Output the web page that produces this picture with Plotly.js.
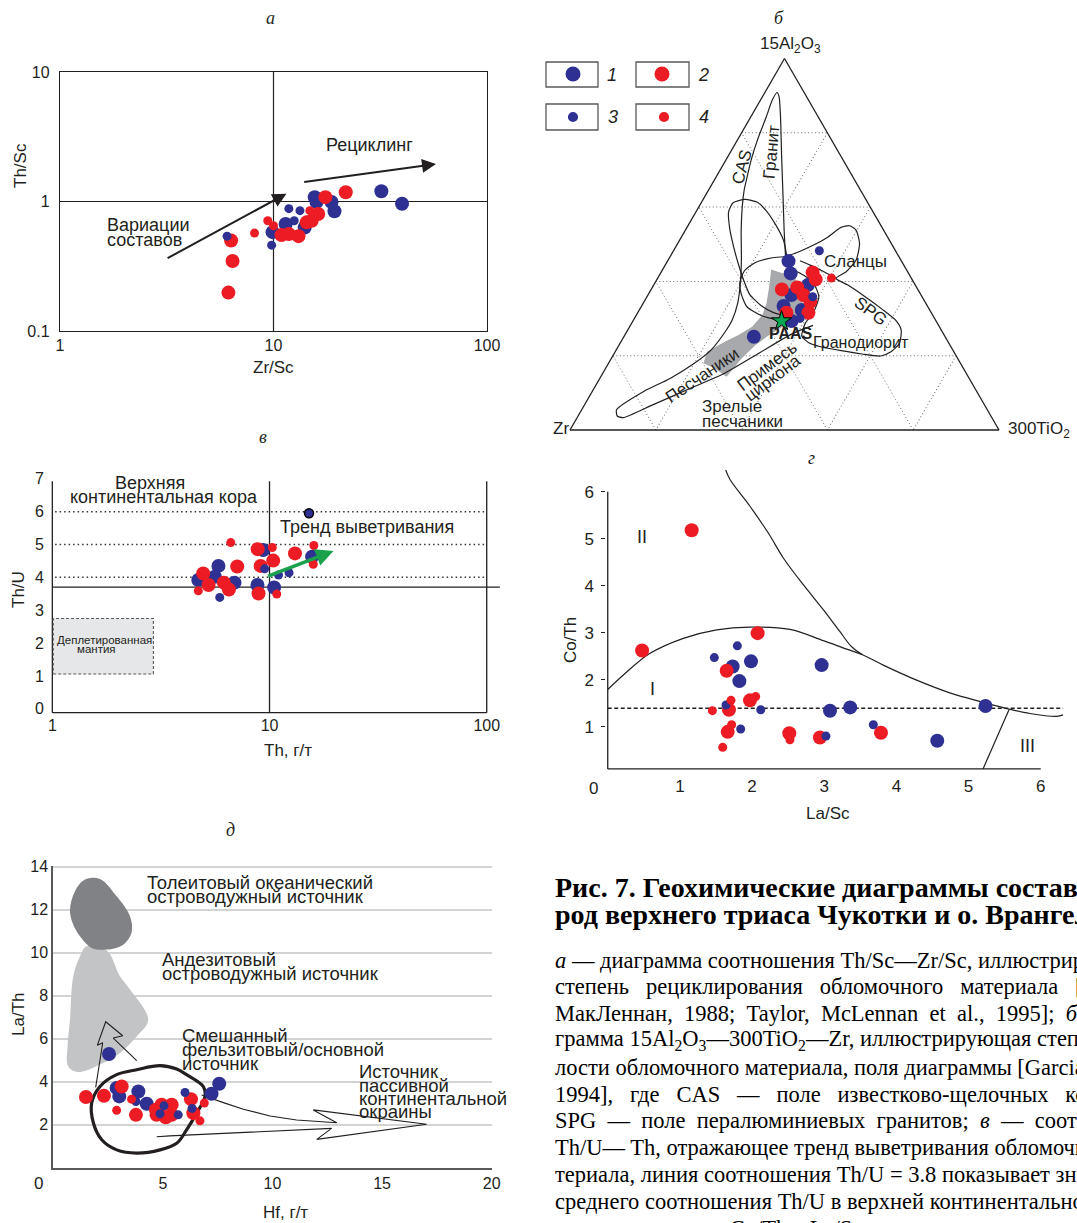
<!DOCTYPE html>
<html><head><meta charset="utf-8">
<script src="https://cdn.plot.ly/plotly-3.0.1.min.js"></script>
<style>html,body{margin:0;padding:0;background:#fff;}#chart{width:1077px;height:1223px;}</style>
</head><body><div id="chart"></div>
<script>
// ---------------- DATA ----------------
// Panel а : Th/Sc vs Zr/Sc
const a_blueL_x = [9.9, 11.4, 14, 15.6, 15.9, 18.7, 19.3, 32, 40];
const a_blueL_y = [0.58, 0.67, 0.63, 1.08, 0.99, 0.99, 0.84, 1.20, 0.96];
const a_blueS_x = [6.06, 9.8, 11.8, 13.3, 12.5];
const a_blueS_y = [0.54, 0.46, 0.88, 0.85, 0.71];
const a_redL_x = [6.33, 6.43, 6.15, 10.9, 11.8, 13.1, 14.3, 15.1, 16.2, 17.5, 21.8];
const a_redL_y = [0.50, 0.347, 0.198, 0.55, 0.56, 0.54, 0.69, 0.71, 0.80, 1.08, 1.18];
const a_redS_x = [8.15, 9.4, 10, 14.8];
const a_redS_y = [0.57, 0.71, 0.65, 0.85];
const a_arrowTailX = [3.14, 13.7];
const a_arrowTailY = [0.36, 1.41];
const a_arrowTipX = [11.5, 57.7];
const a_arrowTipY = [1.15, 1.95];
const a_refX = 10, a_refY = 1;

// Panel в : Th/U vs Th
const v_blueL_x = [9.35, 15.7, 5.82, 4.7, 5.6, 6.9, 8.8, 10.5];
const v_blueL_y = [4.83, 4.63, 4.35, 3.92, 4.02, 3.84, 3.77, 3.69];
const v_blueS_x = [15.2, 12.3, 11.0, 9.5, 5.9];
const v_blueS_y = [5.95, 4.14, 4.07, 4.26, 3.39];
const v_redL_x = [8.82, 10.4, 13.1, 9.1, 7.1, 4.95, 5.24, 6.16, 6.5, 8.9];
const v_redL_y = [4.86, 4.51, 4.73, 4.35, 4.33, 4.12, 3.77, 3.84, 3.63, 3.51];
const v_redS_x = [6.63, 10.3, 16.0, 15.9, 4.7, 10.8];
const v_redS_y = [5.06, 4.91, 4.97, 4.40, 3.59, 3.49];
const v_thU = 3.7;
const v_dotLevels = [4, 5, 6];
const v_deplX = [1.01, 2.92];
const v_deplY = [1.06, 2.75];
const v_trendTail = [9.7, 4.02];
const v_trendTip = [19.7, 4.80];

// Panel г : Co/Th vs La/Sc
const g_blueL_x = [1.731, 1.985, 1.824, 2.964, 3.08, 3.36, 5.235, 4.566];
const g_blueL_y = [2.28, 2.39, 1.97, 2.31, 1.34, 1.41, 1.44, 0.70];
const g_blueS_x = [1.796, 1.477, 1.639, 2.12, 1.842, 3.024, 3.68];
const g_blueS_y = [2.72, 2.47, 1.46, 1.36, 0.95, 0.80, 1.04];
const g_redL_x = [1.163, 0.476, 2.077, 1.648, 1.971, 1.68, 1.662, 2.516, 2.94, 3.786];
const g_redL_y = [5.18, 2.62, 2.99, 2.19, 1.56, 1.36, 0.89, 0.86, 0.77, 0.87];
const g_redS_x = [1.708, 2.05, 1.45, 1.717, 2.525, 1.593];
const g_redS_y = [1.56, 1.64, 1.34, 1.04, 0.72, 0.56];
const g_upper_x = [1.634, 1.694, 1.971, 2.225, 2.433, 2.71, 2.987, 3.218, 3.38, 3.53];
const g_upper_y = [6.46, 6.26, 5.69, 5.12, 4.59, 4.02, 3.49, 3.02, 2.70, 2.53];
const g_dome_x = [0, 0.217, 0.586, 1.048, 1.51, 1.971, 2.525, 2.987, 3.31, 3.53, 3.818, 4.28, 4.74, 5.20, 5.57, 5.85, 6.22, 6.31];
const g_dome_y = [1.79, 2.10, 2.56, 2.88, 3.06, 3.12, 3.07, 2.83, 2.65, 2.53, 2.31, 1.99, 1.72, 1.52, 1.37, 1.28, 1.22, 1.25];
const g_III_x = [5.20, 5.563];
const g_III_y = [0.1, 1.37];
const g_dashY = 1.39;

// Panel д : La/Th vs Hf
const d_blueL_x = [2.54, 2.89, 3.01, 3.88, 4.26, 7.22, 7.57];
const d_blueL_y = [5.28, 3.70, 3.31, 3.54, 2.97, 3.43, 3.90];
const d_blueS_x = [3.77, 5.05, 4.87, 5.70, 6.01, 6.33];
const d_blueS_y = [3.07, 2.87, 2.50, 2.45, 3.49, 2.75];
const d_redL_x = [1.49, 2.31, 3.12, 3.77, 4.68, 4.71, 4.94, 5.13, 5.40, 5.40, 6.28, 6.39];
const d_redL_y = [3.28, 3.34, 3.77, 2.45, 2.69, 2.45, 2.92, 2.34, 2.92, 2.45, 3.18, 2.53];
const d_redS_x = [2.89, 3.57, 6.69, 6.89];
const d_redS_y = [2.66, 3.18, 2.17, 3.00];
const d_thol_x = [1.445, 2.13, 2.89, 3.50, 3.57, 3.19, 2.43, 1.75, 1.22, 0.88, 0.76, 0.99, 1.445];
const d_thol_y = [13.40, 13.43, 12.62, 11.69, 10.92, 10.37, 10.14, 10.22, 10.76, 11.38, 12.0, 12.86, 13.40];
const d_andes_x = [1.52, 2.43, 3.04, 3.50, 4.33, 3.80, 3.04, 2.28, 1.14, 0.68, 0.65, 0.76, 0.91, 1.22, 1.52];
const d_andes_y = [10.30, 10.11, 8.90, 8.28, 6.88, 6.10, 5.33, 4.86, 4.44, 4.70, 5.64, 6.88, 8.90, 9.83, 10.30];
const d_loop_x = [1.75, 2.13, 2.89, 3.80, 4.87, 5.63, 6.08, 6.84, 6.92, 6.54, 6.08, 5.63, 4.87, 3.80, 2.89, 2.21, 1.83, 1.75];
const d_loop_y = [3.00, 3.77, 4.32, 4.55, 4.74, 4.58, 4.32, 3.77, 3.31, 2.53, 1.75, 1.13, 0.82, 0.67, 0.82, 1.29, 2.07, 3.00];
const d_zig_x = [1.934, 2.254, 2.007, 2.391, 3.166, 2.737, 3.805];
const d_zig_y = [3.732, 5.807, 5.686, 6.784, 6.133, 6.026, 4.970];
const d_pass_x = [6.77, 7.30, 7.76, 8.67, 9.89, 11.10, 12.17, 12.93, 11.86, 17.03, 12.02, 12.70, 5.32, 4.72];
const d_pass_y = [3.37, 3.17, 3.02, 2.71, 2.40, 2.21, 2.12, 2.08, 2.68, 2.01, 1.31, 1.82, 1.47, 1.43];

// Panel б : ternary 15Al2O3 (a) – Zr (b) – 300TiO2 (c); b = 1 - a - c
const t_blueL_a = [0.4547, 0.4215, 0.390, 0.3632, 0.3336, 0.3229, 0.2933, 0.2511];
const t_blueL_c = [0.282, 0.3037, 0.3595, 0.3346, 0.331, 0.3788, 0.3697, 0.303];
const t_blueS_a = [0.4825, 0.3587, 0.3004];
const t_blueS_c = [0.340, 0.3864, 0.386];
const t_redL_a = [0.4242, 0.4054, 0.3785, 0.3839, 0.3632, 0.3453, 0.3157, 0.3157];
const t_redL_c = [0.3535, 0.370, 0.3046, 0.3378, 0.3625, 0.3875, 0.3465, 0.398];
const t_redS_a = [0.409];
const t_redS_c = [0.405];
const t_paas_a = [0.2933];
const t_paas_c = [0.3465];
const t_cas_a = [0.4664,0.5381,0.6278,0.7354,0.843,0.8969,0.9085,0.888,0.841,0.789,0.726,0.682,0.646,0.601,0.538,0.457,0.3946,0.3408,0.2960,0.2691,0.2152,0.1776,0.1381,0.1031,0.0547,0.0377,0.0332,0.0682,0.1157,0.1507,0.2081,0.2601,0.2816];
const t_cas_c = [0.2693,0.2301,0.1827,0.1256,0.0692,0.039,0.0284,0.0275,0.0365,0.045,0.059,0.072,0.083,0.101,0.130,0.171,0.1998,0.2204,0.2301,0.2300,0.2211,0.1985,0.1632,0.1192,0.0812,0.0913,0.1072,0.1599,0.2295,0.2815,0.3381,0.3895,0.4258];
const t_lobe_a = [0.3085,0.3166,0.3345,0.3650,0.4045,0.4475,0.4915,0.5435,0.5874,0.6117,0.6206,0.6135,0.5901,0.5516,0.5112,0.4664];
const t_lobe_c = [0.3421,0.3149,0.2787,0.2363,0.2021,0.1685,0.1360,0.1004,0.0760,0.0742,0.0977,0.1292,0.1625,0.2042,0.2420,0.2724];
const t_inner_a = [0.2942,0.3067,0.3318,0.3677,0.3991,0.4287,0.4511,0.4637,0.4664];
const t_inner_c = [0.3453,0.2950,0.2465,0.2149,0.1968,0.1923,0.2066,0.2403,0.2677];
const t_shale_a = [0.4664,0.4771,0.4978,0.5184,0.5453,0.5498,0.5381,0.5022,0.4574,0.4260,0.4081,0.3901,0.3587,0.3247,0.2942,0.2691,0.2332,0.2108,0.1991,0.2045,0.2135,0.2242,0.2350,0.2529,0.2870,0.3184,0.3587,0.3946,0.4170,0.4323,0.4484];
const t_shale_c = [0.2677,0.2895,0.3190,0.3406,0.3591,0.3768,0.3978,0.4238,0.4383,0.4309,0.4159,0.4529,0.5086,0.5656,0.6129,0.6374,0.6514,0.6427,0.6246,0.5780,0.5255,0.4722,0.4388,0.4139,0.4048,0.4090,0.4007,0.3708,0.3355,0.3039,0.2767];
const t_spg_a = [0.4556,0.4439,0.4260,0.4081];
const t_spg_c = [0.3082,0.3380,0.3790,0.4159];
const t_grey_a = [0.4323,0.4233,0.4126,0.3857,0.3408,0.3049,0.2780,0.2556,0.2287,0.1928,0.1435,0.1659,0.1794,0.2108,0.2377,0.2556,0.2780,0.3094,0.3408,0.3857,0.4323];
const t_grey_c = [0.2528,0.2805,0.3138,0.3473,0.3722,0.3758,0.3574,0.3367,0.3182,0.3042,0.2931,0.2538,0.2215,0.2137,0.2418,0.2648,0.2855,0.2937,0.2875,0.2714,0.2528];

// Caption text
const NB = '\u00a0';
const captionTitle = ['Рис. 7. Геохимические диаграммы составов по-', 'род верхнего триаса Чукотки и о. Врангеля'];
const captionBody = [
  '<i>а</i> — диаграмма соотношения Th/Sc—Zr/Sc, иллюстрирующая',
  ['степень', 'рециклирования', 'обломочного', 'материала', '[Тейлор,'].join(NB + NB + ' '),
  'МакЛеннан,' + NB + ' 1988;' + NB + ' Taylor,' + NB + ' McLennan' + NB + ' et' + NB + ' al.,' + NB + ' 1995];' + NB + ' <i>б</i> — диа-',
  'грамма 15Al<sub>2</sub>O<sub>3</sub>—300TiO<sub>2</sub>—Zr, иллюстрирующая степень зре-',
  'лости обломочного материала, поля диаграммы [Garcia et al.,',
  ['1994],', 'где', 'CAS', '—', 'поле', 'известково-щелочных', 'комплексов,'].join(NB + NB + ' '),
  ['SPG', '—', 'поле', 'пералюминиевых', 'гранитов;', '<i>в</i>', '—', 'соотношение'].join(NB + ' '),
  'Th/U— Th, отражающее тренд выветривания обломочного ма-',
  'териала, линия соотношения Th/U = 3.8 показывает значение',
  'среднего соотношения Th/U в верхней континентальной коре;',
  '<i>г</i> — соотношение Co/Th—La/Sc, отражающее состав'
];

// ---------------- STYLE / LAYOUT HELPERS ----------------
const W = 1077, H = 1223;
const SANS = 'Liberation Sans, Arial, sans-serif';
const SERIF = 'Liberation Serif, Times New Roman, serif';
const INK = '#231f20', BLUE = '#2e3192', RED = '#ed1c24';
const BIG = 14, SMALL = 9;
const xd = (l, r) => [l / W, r / W];
const yd = (t, b) => [1 - b / H, 1 - t / H];

const traces = [];
function pts(x, y, color, size, xa, ya, line) {
  traces.push({type: 'scatter', mode: 'markers', x, y, xaxis: xa, yaxis: ya, cliponaxis: false,
    marker: {color, size, line: line || {width: 0}}, hoverinfo: 'skip', showlegend: false});
}
function ln(x, y, xa, ya, color, width, dash, extra) {
  traces.push(Object.assign({type: 'scatter', mode: 'lines', x, y, xaxis: xa, yaxis: ya,
    line: {color, width, dash: dash || 'solid'}, hoverinfo: 'skip', showlegend: false}, extra || {}));
}
function tern(a, c, extra) {
  traces.push(Object.assign({type: 'scatterternary', subplot: 'ternary', a, c, sum: 1,
    hoverinfo: 'skip', showlegend: false}, extra));
}
function addSeries(bx, by, sx, sy, rx, ry, qx, qy, xa, ya) {
  pts(bx, by, BLUE, BIG, xa, ya);
  pts(rx, ry, RED, BIG, xa, ya);
  pts(sx, sy, BLUE, SMALL, xa, ya);
  pts(qx, qy, RED, SMALL, xa, ya);
}

// ---- Panel а
ln([a_refX, a_refX], [0.1, 10], 'x', 'y', INK, 1.2);
ln([1, 100], [a_refY, a_refY], 'x', 'y', INK, 1.2);
addSeries(a_blueL_x, a_blueL_y, a_blueS_x, a_blueS_y, a_redL_x, a_redL_y, a_redS_x, a_redS_y, 'x', 'y');

// ---- Panel в
ln([1, 1], [-0.12, 6.93], 'x2', 'y2', INK, 1.3);
ln([1, 100], [-0.12, -0.12], 'x2', 'y2', INK, 1.3);
ln([100, 100], [-0.12, 6.93], 'x2', 'y2', INK, 1.3);
ln([10, 10], [-0.12, 6.93], 'x2', 'y2', INK, 1.3);
v_dotLevels.forEach(v => ln([1.03, 100], [v, v], 'x2', 'y2', '#333', 1.5, '1.5px,3px'));
ln([1, 115], [v_thU, v_thU], 'x2', 'y2', INK, 1.3);
ln([v_deplX[0], v_deplX[1], v_deplX[1], v_deplX[0], v_deplX[0]],
   [v_deplY[0], v_deplY[0], v_deplY[1], v_deplY[1], v_deplY[0]], 'x2', 'y2', '#58595b', 1.1, '3px,2px',
   {fill: 'toself', fillcolor: '#e6e7e8'});
pts(v_blueL_x, v_blueL_y, BLUE, BIG, 'x2', 'y2');
pts(v_redL_x, v_redL_y, RED, BIG, 'x2', 'y2');
pts(v_blueS_x, v_blueS_y, BLUE, SMALL, 'x2', 'y2', {width: [1.5, 0, 0, 0, 0], color: '#000'});
pts(v_redS_x, v_redS_y, RED, SMALL, 'x2', 'y2');

// ---- Panel г
ln([0, 6], [0.1, 0.1], 'x3', 'y3', INK, 1.3);
ln([0, 0], [0.1, 6], 'x3', 'y3', INK, 1.3);
ln(g_upper_x, g_upper_y, 'x3', 'y3', INK, 1.2, 'solid', {line: {color: INK, width: 1.2, shape: 'spline'}});
ln(g_dome_x, g_dome_y, 'x3', 'y3', INK, 1.2, 'solid', {line: {color: INK, width: 1.2, shape: 'spline'}});
ln(g_III_x, g_III_y, 'x3', 'y3', INK, 1.2);
ln([0, 6.31], [g_dashY, g_dashY], 'x3', 'y3', INK, 1.5, '4px,2.5px');
addSeries(g_blueL_x, g_blueL_y, g_blueS_x, g_blueS_y, g_redL_x, g_redL_y, g_redS_x, g_redS_y, 'x3', 'y3');

// ---- Panel д
ln(d_andes_x, d_andes_y, 'x4', 'y4', '#c2c4c6', 0, 'solid', {fill: 'toself', fillcolor: '#c2c4c6', line: {width: 0, shape: 'spline', color: '#c2c4c6'}});
ln(d_thol_x, d_thol_y, 'x4', 'y4', '#808285', 0, 'solid', {fill: 'toself', fillcolor: '#808285', line: {width: 0, shape: 'spline', color: '#808285'}});
ln(d_zig_x, d_zig_y, 'x4', 'y4', INK, 1.1);
ln(d_pass_x, d_pass_y, 'x4', 'y4', INK, 1.1);
ln(d_loop_x, d_loop_y, 'x4', 'y4', INK, 3.2, 'solid', {line: {color: INK, width: 3.2, shape: 'spline'}});
addSeries(d_blueL_x, d_blueL_y, d_blueS_x, d_blueS_y, d_redL_x, d_redL_y, d_redS_x, d_redS_y, 'x4', 'y4');

// ---- Panel б (ternary)
tern(t_grey_a, t_grey_c, {mode: 'lines', fill: 'toself', fillcolor: '#a7a9ac', line: {width: 0, color: '#a7a9ac'}});
[[t_cas_a, t_cas_c], [t_lobe_a, t_lobe_c], [t_inner_a, t_inner_c], [t_shale_a, t_shale_c], [t_spg_a, t_spg_c]]
  .forEach(p => tern(p[0], p[1], {mode: 'lines', line: {color: INK, width: 1.2, shape: 'spline', smoothing: 0.6}}));
tern(t_blueL_a, t_blueL_c, {mode: 'markers', marker: {color: BLUE, size: BIG}});
tern(t_redL_a, t_redL_c, {mode: 'markers', marker: {color: RED, size: BIG}});
tern(t_blueS_a, t_blueS_c, {mode: 'markers', marker: {color: BLUE, size: SMALL}});
tern(t_redS_a, t_redS_c, {mode: 'markers', marker: {color: RED, size: SMALL}});
tern(t_paas_a, t_paas_c, {mode: 'markers', marker: {symbol: 'star', color: '#00a651', size: 15, line: {color: '#000', width: 1}}});

// ---------------- ANNOTATIONS ----------------
const ann = [];
function T(text, x, y, o) {
  o = o || {};
  const font = Object.assign({family: SANS, size: 18, color: INK}, o.font || {});
  const a = Object.assign({text, x: x / W, y: 1 - y / H, xref: 'paper', yref: 'paper', showarrow: false,
    xanchor: 'center', yanchor: 'middle'}, o);
  a.font = font;
  ann.push(a);
}
const LETTER = {font: {family: SERIF, size: 18, style: 'italic'}};
T('а', 270, 18, LETTER); T('б', 779, 18, LETTER); T('в', 263, 437, LETTER);
T('г', 811, 458, LETTER); T('д', 230, 830, LETTER);

// а
T('Рециклинг', 369, 145);
T('Вариации', 105, 225, {xanchor: 'left'});
T('составов', 105, 240, {xanchor: 'left'});
T('Zr/Sc', 273, 367, {font: {size: 17}});
T('Th/Sc', 20, 165, {textangle: -90, font: {size: 17}});
for (let i = 0; i < 2; i++) {
  ann.push({xref: 'x', yref: 'y', axref: 'x', ayref: 'y', text: '', showarrow: true,
    x: Math.log10(a_arrowTipX[i]), y: Math.log10(a_arrowTipY[i]),
    ax: Math.log10(a_arrowTailX[i]), ay: Math.log10(a_arrowTailY[i]),
    arrowhead: 2, arrowsize: 1.4, arrowwidth: 2, arrowcolor: INK, standoff: 0, startstandoff: 0});
}
// в
T('Верхняя', 150, 483);
T('континентальная кора', 164, 497);
T('Тренд выветривания', 367, 527);
T('Деплетированная', 104, 640, {font: {size: 11.5}});
T('мантия', 96, 649, {font: {size: 11.5}});
T('Th, г/т', 288, 750, {font: {size: 17}});
T('Th/U', 18, 590, {textangle: -90, font: {size: 17}});
ann.push({xref: 'x2', yref: 'y2', axref: 'x2', ayref: 'y2', text: '', showarrow: true,
  x: Math.log10(v_trendTip[0]), y: v_trendTip[1], ax: Math.log10(v_trendTail[0]), ay: v_trendTail[1],
  arrowhead: 2, arrowsize: 1, arrowwidth: 3.5, arrowcolor: '#1ba14b', standoff: 0, startstandoff: 0});
// г
T('II', 642, 537);
T('I', 652, 689);
T('III', 1027, 746);
T('0', 593, 788, {font: {size: 17}});
T('La/Sc', 828, 813, {font: {size: 17}});
T('Co/Th', 570, 640, {textangle: -90, font: {size: 17}});
// д
const DL = {xanchor: 'left', font: {size: 18.5}};
T('Толеитовый океанический', 145, 882, DL);
T('островодужный источник', 145, 896, DL);
T('Андезитовый', 160, 959, DL);
T('островодужный источник', 160, 973, DL);
T('Смешанный', 180, 1035, DL);
T('фельзитовый/основной', 180, 1049, DL);
T('источник', 180, 1063, DL);
T('Источник', 357, 1071, DL);
T('пассивной', 357, 1085, DL);
T('континентальной', 357, 1098, DL);
T('окраины', 357, 1111, DL);
T('0', 38, 1183, {font: {size: 17}});
T('Hf, г/т', 285, 1212, {font: {size: 17}});
T('La/Th', 18, 1015, {textangle: -90, font: {size: 17}});
// б
T('15Al<sub>2</sub>O<sub>3</sub>', 790, 45, {font: {size: 17}});
T('Zr', 561, 428, {font: {size: 17}});
T('300TiO<sub>2</sub>', 1039, 430, {font: {size: 17}});
T('CAS', 742.5, 167, {textangle: -75, font: {size: 17}});
T('Гранит', 771, 152, {textangle: -85, font: {size: 17}});
T('Сланцы', 855, 262, {font: {size: 17}});
T('SPG', 871, 311, {textangle: 37, font: {size: 17}});
T('<b>PAAS</b>', 791, 334, {font: {size: 16}});
T('Гранодиорит', 861, 343, {font: {size: 16}});
T('Песчаники', 702, 375, {textangle: -34, font: {size: 17}});
T('Примесь', 767, 366, {textangle: -37, font: {size: 17}});
T('циркона', 772, 378, {textangle: -37, font: {size: 17}});
T('Зрелые', 732, 407, {font: {size: 17}});
T('песчаники', 742, 421, {font: {size: 17}});
// legend labels
T('1', 612, 75, {font: {style: 'italic'}});
T('2', 703, 75, {font: {style: 'italic'}});
T('3', 613, 117, {font: {style: 'italic'}});
T('4', 704, 117, {font: {style: 'italic'}});
// caption
captionTitle.forEach((s, i) => T('<b>' + s + '</b>', 553, 887 + 28 * i, {xanchor: 'left', font: {family: SERIF, size: 28, color: '#000'}}));
captionBody.forEach((s, i) => T(s, 553, 960 + 26.8 * i, {xanchor: 'left', font: {family: SERIF, size: 22.5, color: '#000'}}));

// ---------------- LEGEND SHAPES ----------------
const shapes = [];
const legendBoxes = [[546, 62, 598, 87, BLUE, 7.5, 573, 74], [636, 62, 689, 87, RED, 7.5, 662, 74],
                     [546, 104, 598, 130, BLUE, 5.1, 573, 117], [636, 104, 689, 130, RED, 5.1, 664, 117]];
legendBoxes.forEach(b => {
  shapes.push({type: 'rect', xref: 'paper', yref: 'paper', x0: b[0] / W, x1: b[2] / W, y0: 1 - b[3] / H, y1: 1 - b[1] / H,
    line: {color: '#58595b', width: 1.3}});
  shapes.push({type: 'circle', xref: 'paper', yref: 'paper', x0: (b[6] - b[5]) / W, x1: (b[6] + b[5]) / W,
    y0: 1 - (b[7] + b[5]) / H, y1: 1 - (b[7] - b[5]) / H, fillcolor: b[4], line: {width: 0}});
});

// ---------------- AXES ----------------
const TF = {family: SANS, size: 16, color: INK};
const baseAx = {showgrid: false, zeroline: false, ticks: '', tickfont: TF, tickmode: 'array', fixedrange: true};
const terAx = {showline: true, linecolor: INK, linewidth: 1.3, showgrid: true, gridcolor: '#6d6e71', gridwidth: 1,
  griddash: '1px,2.5px', showticklabels: false, ticks: '', tick0: 0, dtick: 0.2, title: {text: ''}};

const layout = {
  width: W, height: H, margin: {l: 0, r: 0, t: 0, b: 0}, paper_bgcolor: '#fff', plot_bgcolor: 'rgba(0,0,0,0)',
  showlegend: false, font: {family: SANS, size: 16, color: INK},
  xaxis: Object.assign({}, baseAx, {domain: xd(60, 487), type: 'log', range: [0, 2], anchor: 'y',
    showline: true, mirror: true, linecolor: INK, linewidth: 1.2, tickvals: [1, 10, 100], ticktext: ['1', '10', '100']}),
  yaxis: Object.assign({}, baseAx, {domain: yd(72, 331), type: 'log', range: [-1, 1], anchor: 'x',
    showline: true, mirror: true, linecolor: INK, linewidth: 1.2, tickvals: [0.1, 1, 10], ticktext: ['0.1', '1', '10'], ticklabelstandoff: 6}),
  xaxis2: Object.assign({}, baseAx, {domain: xd(50.9, 499.9), type: 'log', range: [Math.log10(0.985), Math.log10(115)], anchor: 'y2',
    showline: false, tickvals: [1, 10, 100], ticktext: ['1', '10', '100']}),
  yaxis2: Object.assign({}, baseAx, {domain: yd(477.2, 714.0), range: [-0.16, 7.05], anchor: 'x2', showline: false,
    tickvals: [0, 1, 2, 3, 4, 5, 6, 7], ticktext: ['0', '1', '2', '3', '4', '5', '6', '7'], ticklabelstandoff: 6}),
  xaxis3: Object.assign({}, baseAx, {domain: xd(606.3, 1066), range: [-0.02, 6.35], anchor: 'y3', showline: false,
    tickvals: [1, 2, 3, 4, 5, 6], ticktext: ['1', '2', '3', '4', '5', '6'], ticklabelstandoff: 4, tickfont: {family: SANS, size: 17, color: INK}}),
  yaxis3: Object.assign({}, baseAx, {domain: yd(468.2, 769.9), range: [0.08, 6.5], anchor: 'x3', showline: false,
    ticks: 'outside', ticklen: 4, tickcolor: INK, tickwidth: 1, tickvals: [1, 2, 3, 4, 5, 6], ticktext: ['1', '2', '3', '4', '5', '6'],
    ticklabelstandoff: 4, tickfont: {family: SANS, size: 17, color: INK}}),
  xaxis4: Object.assign({}, baseAx, {domain: xd(53.3, 491.7), range: [0, 20], anchor: 'y4', showline: true,
    linecolor: '#58595b', linewidth: 2, tickvals: [5, 10, 15, 20], ticktext: ['5', '10', '15', '20']}),
  yaxis4: Object.assign({}, baseAx, {domain: yd(865.6, 1167.5), range: [0, 14.05], anchor: 'x4', showline: true,
    linecolor: '#58595b', linewidth: 2, showgrid: true, gridcolor: '#d1d3d4', gridwidth: 2,
    tickvals: [2, 4, 6, 8, 10, 12, 14], ticktext: ['2', '4', '6', '8', '10', '12', '14']}),
  ternary: {domain: {x: xd(570, 999), y: yd(58.5, 430)}, sum: 1, bgcolor: 'rgba(0,0,0,0)',
    aaxis: Object.assign({}, terAx), baxis: Object.assign({}, terAx), caxis: Object.assign({}, terAx)},
  annotations: ann,
  shapes: shapes
};

Plotly.newPlot('chart', traces, layout, {staticPlot: true, displayModeBar: false});
</script></body></html>
